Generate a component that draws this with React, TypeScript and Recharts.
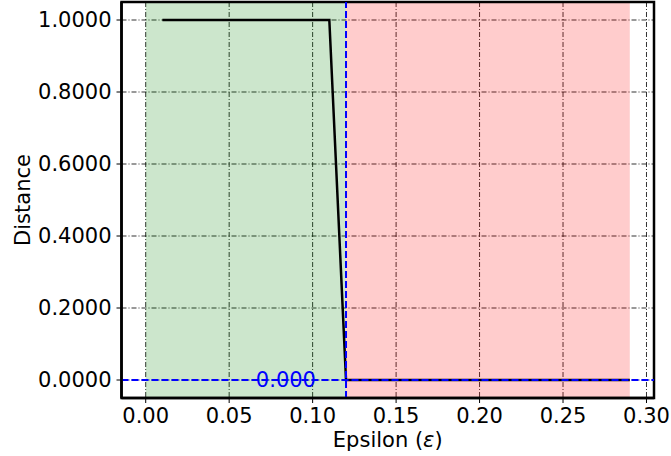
import {
  ComposedChart,
  Line,
  XAxis,
  YAxis,
  CartesianGrid,
  ReferenceArea,
  ReferenceLine,
  ReferenceDot,
  Label,
} from "recharts";

// epsilon sweep and the measured distance at each step
const EPSILONS = [
  0.01, 0.02, 0.03, 0.04, 0.05, 0.06, 0.07, 0.08, 0.09, 0.1, 0.11, 0.12, 0.13,
  0.14, 0.15, 0.16, 0.17, 0.18, 0.19, 0.2, 0.21, 0.22, 0.23, 0.24, 0.25, 0.26,
  0.27, 0.28, 0.29,
];
const DISTANCES = [
  1, 1, 1, 1, 1, 1, 1, 1, 1, 1, 1, 0, 0, 0, 0, 0, 0, 0, 0, 0, 0, 0, 0, 0, 0, 0,
  0, 0, 0,
];

const X_TICKS = [0, 0.05, 0.1, 0.15, 0.2, 0.25, 0.3];
const Y_TICKS = [0, 0.2, 0.4, 0.6, 0.8, 1.0];

const X_DOMAIN: [number, number] = [-0.0145, 0.3045];
const Y_DOMAIN: [number, number] = [-0.05, 1.05];

const SAFE_START = 0;
const THRESHOLD = 0.12;
const SWEEP_END = 0.29;
const THRESHOLD_DISTANCE = 0.0;
const THRESHOLD_LABEL_X = 0.084;

const FONT = "DejaVu Sans";
const FONT_SIZE = 21;

const data = EPSILONS.map((eps, i) => ({ eps, dist: DISTANCES[i] }));

const tickStyle = { fontFamily: FONT, fontSize: FONT_SIZE, fill: "#000" };

export default function App() {
  return (
    <div style={{ position: "absolute", left: 0, top: 0, background: "#fff" }}>
      <ComposedChart
        width={671}
        height={456}
        data={data}
        margin={{ top: 2, right: 17, bottom: 0, left: 0 }}
      >
        <CartesianGrid
          stroke="#000"
          strokeOpacity={0.8}
          strokeWidth={1}
          strokeDasharray="5 2 1 2"
        />
        <ReferenceArea
          x1={SAFE_START}
          x2={THRESHOLD}
          y1={Y_DOMAIN[0]}
          y2={Y_DOMAIN[1]}
          fill="#008000"
          fillOpacity={0.2}
          stroke="none"
        />
        <ReferenceArea
          x1={THRESHOLD}
          x2={SWEEP_END}
          y1={Y_DOMAIN[0]}
          y2={Y_DOMAIN[1]}
          fill="#ff0000"
          fillOpacity={0.2}
          stroke="none"
        />
        <XAxis
          dataKey="eps"
          type="number"
          domain={X_DOMAIN}
          ticks={X_TICKS}
          allowDataOverflow
          tickFormatter={(v: number) => v.toFixed(2)}
          tick={tickStyle}
          tickSize={5}
          tickMargin={5}
          height={58}
          axisLine={{ stroke: "#000", strokeWidth: 2.5 }}
          tickLine={{ stroke: "#000", strokeWidth: 1 }}
        >
          <Label
            content={({ viewBox }: any) => (
              <text
                x={viewBox.x + viewBox.width / 2}
                y={viewBox.y + 49}
                textAnchor="middle"
                fontFamily={FONT}
                fontSize={FONT_SIZE}
                fill="#000"
              >
                Epsilon (<tspan fontStyle="italic">ε</tspan>)
              </text>
            )}
          />
        </XAxis>
        <YAxis
          type="number"
          domain={Y_DOMAIN}
          ticks={Y_TICKS}
          allowDataOverflow
          tickFormatter={(v: number) => v.toFixed(4)}
          tick={tickStyle}
          tickSize={5}
          tickMargin={5}
          width={121.5}
          axisLine={{ stroke: "#000", strokeWidth: 2.5 }}
          tickLine={{ stroke: "#000", strokeWidth: 1 }}
        >
          <Label
            content={({ viewBox }: any) => {
              const cx = viewBox.x + 30;
              const cy = viewBox.y + viewBox.height / 2;
              return (
                <text
                  x={cx}
                  y={cy}
                  transform={`rotate(-90 ${cx} ${cy})`}
                  textAnchor="middle"
                  fontFamily={FONT}
                  fontSize={FONT_SIZE}
                  fill="#000"
                >
                  Distance
                </text>
              );
            }}
          />
        </YAxis>
        <Line
          dataKey="dist"
          type="linear"
          stroke="#000"
          strokeWidth={2.5}
          dot={false}
          activeDot={false}
          isAnimationActive={false}
        />
        <ReferenceLine
          x={THRESHOLD}
          stroke="#0000ff"
          strokeWidth={2}
          strokeDasharray="7 3"
        />
        <ReferenceLine
          y={THRESHOLD_DISTANCE}
          stroke="#0000ff"
          strokeWidth={2}
          strokeDasharray="7 3"
        />
        <ReferenceDot
          x={THRESHOLD_LABEL_X}
          y={THRESHOLD_DISTANCE}
          r={0}
          fill="none"
          stroke="none"
          label={{
            value: THRESHOLD_DISTANCE.toFixed(3),
            position: "center",
            fill: "#0000ff",
            fontFamily: FONT,
            fontSize: FONT_SIZE,
          }}
        />
        {/* top and right spines */}
        <ReferenceArea
          x1={X_DOMAIN[0]}
          x2={X_DOMAIN[1]}
          y1={Y_DOMAIN[0]}
          y2={Y_DOMAIN[1]}
          fill="none"
          stroke="#000"
          strokeWidth={2.5}
        />
      </ComposedChart>
    </div>
  );
}
